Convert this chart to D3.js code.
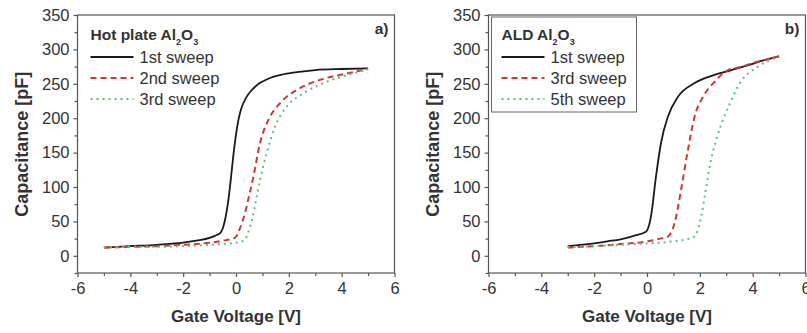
<!DOCTYPE html>
<html>
<head>
<meta charset="utf-8">
<script src="https://cdn.jsdelivr.net/npm/d3@7"></script>
<style>
  body { margin: 0; background: #fff; }
  text { font-family: "Liberation Sans", Arial, sans-serif; fill: #333; }
</style>
</head>
<body>
<svg id="chart" width="807" height="333"></svg>
<script>
// values: [gate voltage V, capacitance pF]
const hotSweep1 = [[-5,12],[-4,14],[-3,16],[-2,19],[-1.5,22],[-1,26],[-0.8,29],[-0.6,33],[-0.5,40],[-0.4,55],[-0.3,78],[-0.2,110],[-0.1,146],[0,176],[0.1,199],[0.2,214],[0.4,231],[0.6,241],[0.9,251],[1.2,257],[1.7,263],[2.3,267],[3,270],[4,271.5],[5,272.5]];
const hotSweep2 = [[-5,12],[-4,13],[-3,14],[-2,16],[-1,19],[-0.5,22],[-0.04,26],[0.15,40],[0.34,62],[0.5,88],[0.66,115],[0.91,164],[1.22,197],[1.67,222],[2.3,241],[3.2,256],[4.2,265],[5,272]];
const hotSweep3 = [[-5,12],[-4,13],[-3,13],[-2,14],[-1,16],[0,19],[0.34,23],[0.45,33],[0.6,52],[0.91,110],[1.16,149],[1.48,188],[1.92,217],[2.55,236],[3.43,253],[4.44,265],[5,271]];

const aldSweep1 = [[-3,14],[-2.5,16],[-2,18],[-1.5,21],[-1,24],[-0.5,29],[-0.04,35],[0.15,57],[0.34,115],[0.53,164],[0.79,202],[1.17,231],[1.8,251],[2.56,263],[3.2,270],[3.83,277],[4.4,284],[5,290]];
const aldSweep3 = [[-3,12],[-2,14],[-1,17],[0,21],[0.5,25],[0.79,28],[1.04,47],[1.29,96],[1.55,154],[1.8,202],[2.12,231],[2.56,253],[3.07,270],[3.5,274],[4,280],[4.5,285],[5,290]];
const aldSweep5 = [[-3,13],[-2,14],[-1,16],[0,18],[1,21],[1.5,24],[1.8,28],[2.05,57],[2.2,90],[2.4,135],[2.65,172],[2.9,200],[3.1,218],[3.5,250],[4.2,275],[4.97,289]];

const xTicks = [-6, -4, -2, 0, 2, 4, 6];
const yTicks = [0, 50, 100, 150, 200, 250, 300, 350];
const hotLabels = ["1st sweep", "2nd sweep", "3rd sweep"];
const aldLabels = ["1st sweep", "3rd sweep", "5th sweep"];

const styles = [
  { color: "#1a1a1a", dash: null, width: 1.8 },
  { color: "#d6343c", dash: "6,4", width: 2 },
  { color: "#5cc47a", dash: "2,4", width: 2 }
];

const svg = d3.select("#chart");

function drawPanel(opts) {
  const x = d3.scaleLinear().domain([-6, 6]).range([opts.left, opts.left + 317]);
  const y = d3.scaleLinear().domain([-25, 350]).range([273, 15]);
  const g = svg.append("g");

  // frame
  g.append("rect")
    .attr("x", x(-6)).attr("y", y(350))
    .attr("width", x(6) - x(-6)).attr("height", y(-25) - y(350))
    .attr("fill", "none").attr("stroke", "#555").attr("stroke-width", 1.2);

  g.append("g").attr("transform", `translate(0,${y(-25)})`)
    .call(d3.axisBottom(x).tickValues(xTicks).tickSize(4).tickPadding(5).tickFormat(d => String(d)));
  g.append("g").attr("transform", `translate(0,${y(-25)})`)
    .call(d3.axisBottom(x).tickValues(d3.range(-5, 6, 2)).tickSize(3).tickFormat(""));
  g.append("g").attr("transform", `translate(${x(-6)},0)`)
    .call(d3.axisLeft(y).tickValues(yTicks).tickSize(4).tickPadding(4));
  g.append("g").attr("transform", `translate(${x(-6)},0)`)
    .call(d3.axisLeft(y).tickValues(d3.range(-25, 350, 50)).tickSize(3).tickFormat(""));
  g.selectAll(".domain").remove();
  g.selectAll(".tick line").attr("stroke", "#555").attr("stroke-width", 1.2);
  g.selectAll(".tick text").attr("font-size", 16.5).attr("fill", "#444")
    .attr("font-family", "'Liberation Sans', Arial, sans-serif");

  g.append("text").attr("x", x(0)).attr("y", 322).attr("text-anchor", "middle")
    .attr("font-size", 17).attr("font-weight", "bold").text("Gate Voltage [V]");
  g.append("text")
    .attr("transform", `translate(${opts.left - 50},${y(162)}) rotate(-90)`)
    .attr("text-anchor", "middle").attr("font-size", 18).attr("font-weight", "bold")
    .text("Capacitance [pF]");

  // curves
  const line = d3.line().x(d => x(d[0])).y(d => y(d[1])).curve(d3.curveMonotoneX);
  opts.series.forEach((s, i) => {
    g.append("path").datum(s)
      .attr("d", line).attr("fill", "none")
      .attr("stroke", styles[i].color).attr("stroke-width", styles[i].width)
      .attr("stroke-dasharray", styles[i].dash);
  });

  // legend
  if (opts.box) {
    g.append("rect").attr("x", opts.left + 3).attr("y", 17)
      .attr("width", 145).attr("height", 95)
      .attr("fill", "none").attr("stroke", "#666").attr("stroke-width", 1);
  }
  const lx = opts.left + 13;
  const title = g.append("text").attr("x", lx).attr("y", 40)
    .attr("font-size", 15.5).attr("font-weight", "bold").attr("fill", "#222");
  title.append("tspan").text(opts.title + " Al");
  title.append("tspan").attr("dy", 5).attr("font-size", 9).text("2");
  title.append("tspan").attr("dy", -5).text("O");
  title.append("tspan").attr("dy", 5).attr("font-size", 9).text("3");

  opts.labels.forEach((lab, i) => {
    const ly = 57 + i * 21;
    g.append("line").attr("x1", lx).attr("x2", lx + 43).attr("y1", ly).attr("y2", ly)
      .attr("stroke", styles[i].color).attr("stroke-width", styles[i].width)
      .attr("stroke-dasharray", styles[i].dash);
    g.append("text").attr("x", lx + 49).attr("y", ly + 6)
      .attr("font-size", 16.5).attr("fill", "#333").text(lab);
  });

  g.append("text").attr("x", x(6) - 6).attr("y", 34).attr("text-anchor", "end")
    .attr("font-size", 15.5).attr("font-weight", "bold").attr("fill", "#222").text(opts.tag);
}

drawPanel({ left: 77.5, series: [hotSweep1, hotSweep2, hotSweep3], labels: hotLabels,
  title: "Hot plate", tag: "a)", box: false });
drawPanel({ left: 488.5, series: [aldSweep1, aldSweep3, aldSweep5], labels: aldLabels,
  title: "ALD", tag: "b)", box: true });
</script>
</body>
</html>
